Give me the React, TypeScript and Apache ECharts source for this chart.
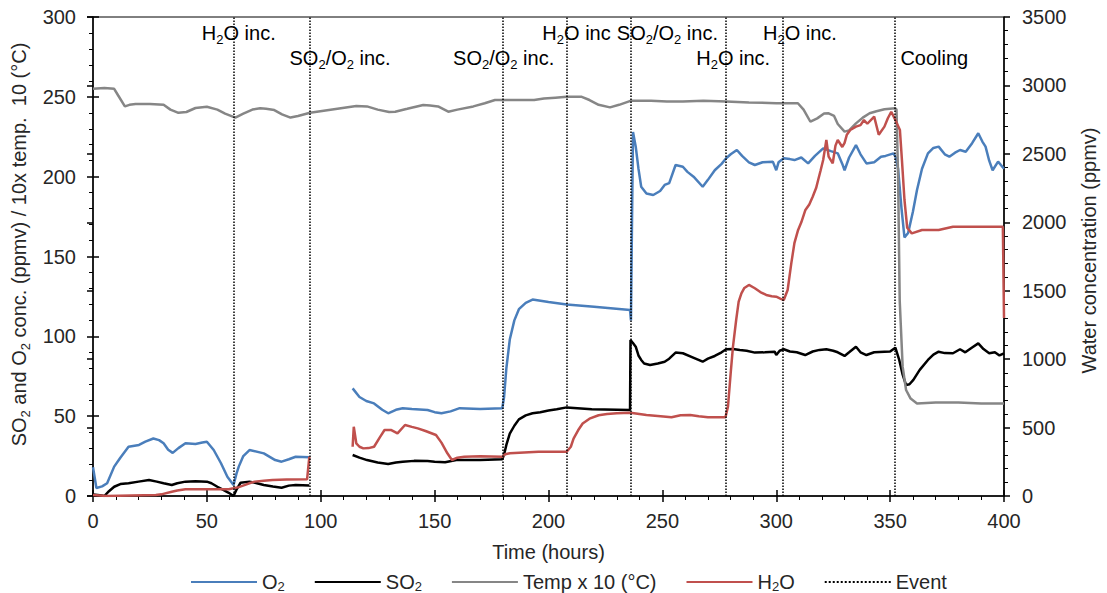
import React, { useEffect, useRef } from 'react';
import * as echarts from 'echarts';

const FONT = '"Liberation Sans", Arial, Helvetica, sans-serif';
const TEXT = '#262626';

// ---- data (hours, values) ----
const o2Hours = [0, 1.5, 4, 6.2, 9.3, 12, 15.6, 20.2, 23, 26.5, 29, 31, 33, 35, 37.5, 40.6, 45, 48, 50, 53, 56.2, 59, 61.7, 63, 64, 66, 68.7, 75, 80, 82.8, 86, 89, 95, 100, 114, 117, 120, 123.4, 127, 129.6, 133, 136, 140, 146.9, 150, 153, 157, 161, 170, 179.7, 180.5, 181.5, 183, 185, 187, 190, 193, 200, 208, 220, 235.8, 236.2, 237.1, 238.3, 239.5, 240.7, 243, 246, 249, 251, 253, 255.8, 259, 261, 263.7, 267.7, 270, 273, 276, 278, 280, 282.7, 285, 288, 290.6, 294, 298.5, 300, 301, 303.3, 306, 308, 311, 314, 317, 320.6, 324, 327, 329, 330, 332, 335, 337, 339.6, 343, 346, 348, 351.5, 352.5, 353.5, 355, 356.3, 357.9, 360, 361.8, 364, 366.6, 369, 371.3, 374, 376, 378.5, 380.7, 383.2, 386, 388.7, 390.5, 391.9, 393.5, 395, 397.4, 400];
const o2Values = [18, 5, 6, 8, 18.4, 24, 30.9, 32, 34, 36, 35, 33, 29, 27, 30, 33, 32.6, 33.5, 34, 28.8, 20.5, 12, 6.9, 14, 18.4, 25, 28.8, 26.7, 22.5, 21.5, 23, 24.6, 24.2, null, 67.4, 62, 59.5, 58, 54, 51.8, 54, 55, 54.5, 53.9, 52.5, 51.8, 53, 55, 54.5, 55, 62, 80, 98, 110, 117, 121, 123, 121.5, 120, 118.5, 116.5, 110, 228, 218.8, 205, 193.7, 189.5, 188.5, 191, 194.8, 196, 207.3, 206.2, 203, 200, 193.7, 198, 204, 208, 211.5, 214, 216.7, 213, 209, 207.3, 209, 209.4, 204, 209, 211.5, 211, 210.4, 212, 208.3, 213, 217.7, 216, 214.6, 208, 204, 212, 219.8, 214, 208.3, 209, 212.5, 213, 214.6, 212, 205, 180, 162, 164.7, 178, 191.6, 205, 214.6, 218, 218.8, 214, 212.5, 215, 216.7, 215.6, 221, 227.2, 222, 218.8, 210, 204, 209.4, 205];

const so2Hours = [0, 3, 5, 7, 9.3, 12, 15.6, 20, 24.6, 28, 31, 34.6, 37, 40.6, 45, 50, 52, 54.6, 57, 59.6, 61.7, 63, 64.8, 68.7, 72, 75, 79, 82.8, 86, 89, 95, 100, 114, 117, 120.3, 125, 129.6, 133, 136, 141, 146.9, 150, 154.6, 159.5, 170, 179.7, 180.5, 181.5, 183, 185, 187, 190, 193, 196.4, 200, 203.6, 208, 219, 235.8, 236, 237, 238.3, 239.5, 240.7, 242, 244.6, 248, 251, 253, 255.8, 259, 263, 267.7, 270, 273, 276, 278, 281, 284, 287, 290.6, 295, 299.3, 300, 301.5, 303.3, 306, 309, 312.7, 316, 319, 322, 325, 327, 330, 332, 335, 337, 339.6, 343, 347.5, 350, 352.3, 354, 355.5, 357, 358.5, 360.2, 363, 366.6, 369, 371.3, 374, 377.6, 380.7, 383, 386, 388.7, 391, 393.5, 396, 398, 400];
const so2Values = [1, 0.5, 0, 3, 5.8, 7.5, 8, 9, 10, 9, 8, 6.9, 8, 9, 9.2, 9, 8, 5.8, 4, 2, 0, 4, 8.3, 9, 8, 6.9, 6, 5.2, 6.5, 6.9, 6.5, null, 25.7, 24, 22.5, 21, 20, 21, 21.5, 22, 21.9, 21.5, 21.1, 22.5, 22.5, 23, 26, 32, 39, 44, 48, 50.5, 51.8, 52.5, 53.5, 54.3, 55.5, 54.3, 53.9, 97.7, 96, 93.5, 88, 85.2, 83, 82, 83, 84.1, 86, 89.8, 89.4, 87, 84.1, 86, 87.7, 90, 91.9, 92, 91.4, 91, 89.8, 90, 90.4, 88.3, 91, 91.9, 90.5, 90, 88.3, 90.5, 91.5, 91.9, 91, 90, 87.7, 90, 93.5, 90, 88.3, 90, 90.4, 90.5, 92.9, 85.2, 76, 69.5, 70, 72.7, 79, 85.2, 88.5, 90.4, 89.5, 89.4, 91.9, 90, 93, 95.6, 92, 89.4, 90, 88, 89.4];

const tempHours = [0, 5, 9.3, 11, 14, 16, 18.7, 25, 31, 34, 37.5, 41, 45, 50, 54.6, 58, 62.5, 66, 70, 73.4, 76, 79.6, 83, 86.7, 90, 95.3, 115.6, 120.3, 125, 130, 132.7, 138, 145, 148, 151.5, 156, 160, 167, 172, 176.5, 185, 193.7, 198, 203, 208, 212, 214.6, 218, 222, 227, 231, 236, 245, 252, 259, 268, 278, 288, 300, 309.5, 312, 315, 318, 321, 323, 325.4, 327, 330, 332, 335, 338, 341, 344, 347.5, 352.3, 352.8, 353.5, 354.2, 355.5, 357, 359, 361.8, 370, 380, 390, 400];
const tempValues = [255, 255.5, 255, 251, 244, 245, 245.5, 245.5, 245, 242, 240, 240.5, 243, 243.8, 242, 239.5, 237, 239.5, 242, 242.8, 242.5, 241.7, 239, 237, 238, 240, 244.2, 244, 242, 240.5, 240.7, 242.5, 244.9, 244.5, 244, 240.7, 242, 244, 246, 248, 248, 248, 249, 249.5, 250, 250, 250, 248, 245, 243.4, 245, 247.5, 247.5, 247, 247, 247.5, 247, 246.5, 246, 246, 242, 234.4, 236.5, 239.5, 239.7, 238, 233, 228.2, 229, 233.4, 237, 239.7, 241, 242.2, 242.8, 242, 200, 122.7, 81, 66.4, 61, 58, 58.5, 58.5, 58, 58];

const h2oHours = [0, 6, 27.6, 30, 34.6, 37, 40.6, 50, 59.6, 61.7, 64, 66.5, 69, 71, 75, 78.8, 85, 94, 95, 100, 114, 114.5, 115.6, 117, 118.7, 121, 123.4, 126, 128, 131, 133.7, 137, 140, 142.6, 146, 150.6, 153, 155.6, 157.6, 160, 163, 170, 179.7, 181, 183, 195.6, 208, 209.8, 211, 213, 215, 218, 222, 225.7, 230, 236, 243, 248, 254, 258, 262.2, 266, 270, 277.7, 278.8, 280, 281, 282.4, 283.5, 284.7, 286, 288, 290.6, 293, 295.6, 298, 300, 302, 303.3, 305, 306.6, 308, 309.6, 311, 312.8, 314.5, 316, 317.5, 318.4, 319.5, 320.6, 322, 323, 324.8, 326, 327, 329, 330, 331, 332.5, 335, 337, 338.5, 340, 343, 345, 347.5, 349, 350.5, 352.3, 354.3, 355.2, 356.3, 357.5, 359.5, 364, 371.3, 377.6, 388.7, 398, 399.5, 400];
const h2oValues = [7, 0, 7, 12, 31, 40, 49, 49, 49, 56, 65, 80, 95, 105, 112, 117, 120, 122, 287, null, 360, 506, 385, 360, 348, 350, 360, 430, 482, 482, 458, 519, 505, 494, 475, 446, 390, 312, 263, 280, 287, 290, 287, 305, 312, 324, 324, 360, 420, 480, 530, 565, 590, 599, 605, 609, 592, 585, 575, 590, 592, 582, 575, 575, 653, 900, 1091, 1286, 1420, 1481, 1520, 1542, 1518, 1490, 1469, 1460, 1456, 1440, 1432, 1505, 1700, 1850, 1944, 2000, 2090, 2130, 2187, 2250, 2309, 2380, 2455, 2601, 2480, 2431, 2560, 2601, 2550, 2580, 2640, 2674, 2699, 2710, 2747, 2720, 2772, 2640, 2699, 2760, 2808, 2747, 2674, 2450, 2163, 1960, 1919, 1944, 1944, 1968, 1968, 1968, 1968, 1300];

const eventHours = [62, 95, 180, 208, 236, 278, 303, 352];

// annotation labels (rich text), their hour position and their level on the left axis
const annotationTexts = [
  '{n|H}{s|2}{n|O inc.}',
  '{n|SO}{s|2}{n|/O}{s|2}{n| inc.}',
  '{n|SO}{s|2}{n|/O}{s|2}{n| inc.}',
  '{n|H}{s|2}{n|O inc}',
  '{n|SO}{s|2}{n|/O}{s|2}{n| inc.}',
  '{n|H}{s|2}{n|O inc.}',
  '{n|H}{s|2}{n|O inc.}',
  '{n|Cooling}',
];
const annotationHours = [64, 108.5, 180.3, 212.3, 252.2, 281.1, 310.4, 369.4];
const annotationLevels = [290, 274.3, 274.3, 290, 290, 274.3, 290, 274.3];

const legendNames = ['O2', 'SO2', 'Temp x 10 (°C)', 'H2O', 'Event'];
const legendLabels = ['{n|O}{s|2}', '{n|SO}{s|2}', '{n|Temp x 10 (°C)}', '{n|H}{s|2}{n|O}', '{n|Event}'];

const zip = (h: number[], v: (number | null)[]) => h.map((x, i) => [x, v[i]]);

const rich = (color: string) => ({
  n: { fontSize: 20, fontFamily: FONT, color, lineHeight: 26, verticalAlign: 'middle' },
  s: { fontSize: 13, fontFamily: FONT, color, lineHeight: 15, verticalAlign: 'bottom' },
});
const legendRich = {
  n: { fontSize: 20, fontFamily: FONT, color: TEXT, lineHeight: 22, verticalAlign: 'middle' },
  s: { fontSize: 13, fontFamily: FONT, color: TEXT, lineHeight: 12, verticalAlign: 'bottom' },
};

export default function App() {
  const ref = useRef<HTMLDivElement>(null);
  useEffect(() => {
    if (!ref.current) return;
    const chart = echarts.init(ref.current, null, { renderer: 'svg' });
    const labelStyle = { color: TEXT, fontSize: 20, fontFamily: FONT };
    const tickLine = { color: '#000', width: 1.5 };
    const option: any = {
      animation: false,
      backgroundColor: '#fff',
      grid: { left: 93, right: 100, top: 17, bottom: 97, show: true, borderColor: '#000', borderWidth: 1, backgroundColor: 'transparent' },
      legend: {
        data: legendNames,
        left: 185,
        top: 567,
        itemWidth: 66,
        itemHeight: 14,
        itemGap: 29,
        itemStyle: { opacity: 0 },
        formatter: (name: string) => legendLabels[legendNames.indexOf(name)],
        textStyle: { rich: legendRich },
      },
      xAxis: [
        {
          type: 'value', min: 0, max: 400, interval: 50, position: 'bottom',
          axisLine: { show: true, onZero: false, lineStyle: tickLine },
          axisTick: { show: true, inside: false, length: 6, lineStyle: tickLine },
          minorTick: { show: true, splitNumber: 5, length: 4, lineStyle: { color: '#000', width: 1 } },
          splitLine: { show: false },
          axisLabel: { ...labelStyle, margin: 15 },
          name: 'Time (hours)', nameLocation: 'middle', nameGap: 46,
          nameTextStyle: labelStyle,
        },
        {
          type: 'value', min: 0, max: 400, interval: 50, position: 'bottom',
          axisLine: { show: false }, axisLabel: { show: false }, splitLine: { show: false },
          axisTick: { show: true, inside: true, length: 6, lineStyle: tickLine },
        },
      ],
      yAxis: [
        {
          type: 'value', min: 0, max: 300, interval: 50, position: 'left',
          axisLine: { show: true, onZero: false, lineStyle: tickLine },
          axisTick: { show: true, inside: false, length: 6, lineStyle: tickLine },
          minorTick: { show: true, splitNumber: 5, length: 4, lineStyle: { color: '#000', width: 1 } },
          splitLine: { show: false },
          axisLabel: { ...labelStyle, margin: 17 },
          name: '{n|SO}{s|2}{n| and O}{s|2}{n| conc. (ppmv) / 10x temp.  10 (°C)}',
          nameLocation: 'middle', nameRotate: 90, nameGap: 57,
          nameTextStyle: { rich: rich(TEXT), padding: [0, 0, 0, 24] },
        },
        {
          type: 'value', min: 0, max: 3500, interval: 500, position: 'right',
          axisLine: { show: true, onZero: false, lineStyle: tickLine },
          axisTick: { show: true, inside: false, length: 6, lineStyle: tickLine },
          minorTick: { show: true, splitNumber: 5, length: 4, lineStyle: { color: '#000', width: 1 } },
          splitLine: { show: false },
          axisLabel: { ...labelStyle, margin: 18, formatter: (v: number) => String(v) },
          name: 'Water concentration (ppmv)',
          nameLocation: 'middle', nameRotate: 90, nameGap: 75,
          nameTextStyle: { ...labelStyle, padding: [0, 0, 0, 12] },
        },
        {
          type: 'value', min: 0, max: 300, interval: 50, position: 'left',
          axisLine: { show: false }, axisLabel: { show: false }, splitLine: { show: false },
          axisTick: { show: true, inside: true, length: 6, lineStyle: tickLine },
        },
        {
          type: 'value', min: 0, max: 3500, interval: 500, position: 'right',
          axisLine: { show: false }, axisLabel: { show: false }, splitLine: { show: false },
          axisTick: { show: true, inside: true, length: 6, lineStyle: tickLine },
        },
      ],
      series: [
        {
          name: 'O2', type: 'line', xAxisIndex: 0, yAxisIndex: 0, symbol: 'none', connectNulls: false,
          data: zip(o2Hours, o2Values),
          lineStyle: { color: '#4a7ebb', width: 2.5 }, itemStyle: { color: '#4a7ebb' },
        },
        {
          name: 'SO2', type: 'line', xAxisIndex: 0, yAxisIndex: 0, symbol: 'none', connectNulls: false,
          data: zip(so2Hours, so2Values),
          lineStyle: { color: '#000000', width: 2.5 }, itemStyle: { color: '#000000' },
        },
        {
          name: 'Temp x 10 (°C)', type: 'line', xAxisIndex: 0, yAxisIndex: 0, symbol: 'none',
          data: zip(tempHours, tempValues),
          lineStyle: { color: '#868686', width: 2.5 }, itemStyle: { color: '#868686' },
        },
        {
          name: 'H2O', type: 'line', xAxisIndex: 0, yAxisIndex: 1, symbol: 'none', connectNulls: false,
          data: zip(h2oHours, h2oValues),
          lineStyle: { color: '#c0504d', width: 2.5 }, itemStyle: { color: '#c0504d' },
        },
        {
          name: 'Event', type: 'line', xAxisIndex: 0, yAxisIndex: 0, symbol: 'none', data: [],
          lineStyle: { color: '#000', width: 1.5, type: 'dotted' }, itemStyle: { color: '#000' },
          markLine: {
            silent: true, symbol: ['none', 'none'], animation: false,
            label: { show: false },
            lineStyle: { color: '#000', width: 1.5, type: 'dotted' },
            emphasis: { disabled: true },
            data: eventHours.map((h) => ({ xAxis: h })),
          },
          markPoint: {
            silent: true, animation: false,
            data: annotationTexts.map((t, i) => ({
              coord: [annotationHours[i], annotationLevels[i]],
              symbol: 'rect', symbolSize: 1,
              itemStyle: { color: 'rgba(0,0,0,0)' },
              label: { show: true, position: 'inside', formatter: t, rich: rich('#000') },
            })),
          },
        },
      ],
    };
    chart.setOption(option);
    return () => chart.dispose();
  }, []);
  return (
    <div
      ref={ref}
      style={{ position: 'absolute', left: 0, top: 0, width: 1107, height: 593, background: '#fff' }}
    />
  );
}
